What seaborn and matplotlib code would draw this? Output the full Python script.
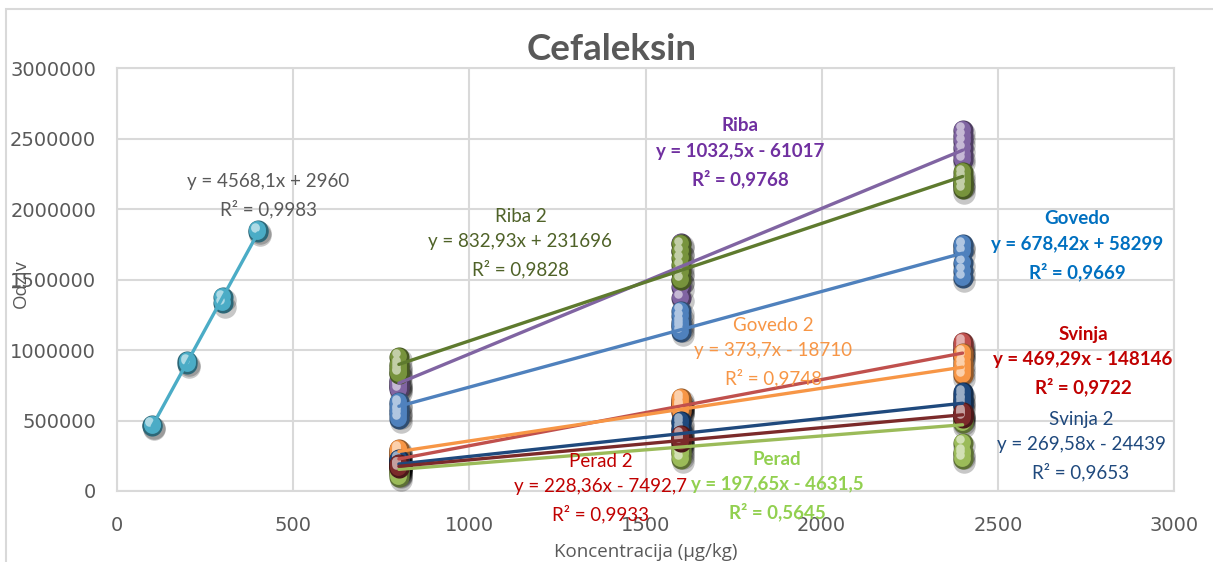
import numpy as np
import pandas as pd
import matplotlib
matplotlib.use("Agg")
import matplotlib.pyplot as plt
import matplotlib.colors as mcolors
from matplotlib.transforms import ScaledTranslation
from matplotlib.patches import Rectangle
import seaborn as sns

# ---------------- data ----------------
std_conc = [100, 100, 200, 200, 300, 300, 400, 400]
std_resp = [462000, 468000, 900000, 920000, 1330000, 1375000, 1840000, 1850000]
std_slope, std_icpt, std_r2 = 4568.1, 2960, 0.9983

levels = [800, 1600, 2400]
series = ["Riba", "Riba 2", "Govedo", "Svinja", "Govedo 2", "Svinja 2", "Perad", "Perad 2"]

riba = [[720000, 745000, 770000, 790000, 760000, 740000],
        [1370000, 1450000, 1500000, 1560000, 1700000, 1760000],
        [2350000, 2380000, 2430000, 2480000, 2520000, 2560000]]
riba2 = [[830000, 840000, 860000, 880000, 900000, 950000],
         [1500000, 1550000, 1600000, 1650000, 1700000, 1750000],
         [2140000, 2170000, 2180000, 2200000, 2230000, 2260000]]
govedo = [[510000, 540000, 560000, 580000, 610000, 630000],
          [1130000, 1160000, 1180000, 1200000, 1240000, 1280000],
          [1510000, 1560000, 1620000, 1700000, 1740000, 1750000]]
svinja = [[190000, 200000, 210000, 220000, 230000, 250000],
          [560000, 580000, 600000, 610000, 620000, 640000],
          [960000, 990000, 1000000, 1020000, 1040000, 1060000]]
govedo2 = [[250000, 260000, 270000, 280000, 290000, 300000],
           [570000, 590000, 600000, 610000, 640000, 660000],
           [820000, 850000, 880000, 910000, 950000, 980000]]
svinja2 = [[170000, 190000, 200000, 210000, 220000, 230000],
           [400000, 420000, 430000, 450000, 480000, 500000],
           [600000, 620000, 640000, 650000, 680000, 700000]]
perad = [[100000, 120000, 130000, 140000, 150000, 160000],
         [230000, 260000, 280000, 300000, 320000, 340000],
         [230000, 260000, 280000, 340000, 480000, 500000]]
perad2 = [[160000, 170000, 175000, 180000, 185000, 190000],
          [350000, 360000, 365000, 370000, 380000, 400000],
          [520000, 530000, 540000, 545000, 550000, 560000]]
responses = [riba, riba2, govedo, svinja, govedo2, svinja2, perad, perad2]

slopes = [1032.5, 832.93, 678.42, 469.29, 373.7, 269.58, 197.65, 228.36]
intercepts = [-61017, 231696, 58299, -148146, -18710, -24439, -4631.5, -7492.7]
r2 = [0.9768, 0.9828, 0.9669, 0.9722, 0.9748, 0.9653, 0.5645, 0.9933]

# ---------------- styling ----------------
marker_colors = ["#8064A2", "#77933C", "#4F81BD", "#C0504D", "#F79646",
                 "#1F497D", "#9BBB59", "#7B2A2A"]
text_colors = ["#7030A0", "#4F6228", "#0070C0", "#C00000", "#F79646",
               "#1F497D", "#92D050", "#C00000"]
text_bold = [True, False, True, True, False, False, True, False]
label_pos = [(1769, 2400000), (1145, 1760000), (2725, 1740000), (2742, 922000),
             (1862, 986000), (2736, 319000), (1873, 36000), (1372, 22000)]
std_color = "#4BACC6"
grey = "#595959"
grid_c = "#D9D9D9"

sns.set_theme(style="white")
plt.rcParams["font.family"] = ["Lato", "DejaVu Sans"]

fig = plt.figure(figsize=(12.13, 5.62), dpi=100)
ax = fig.add_axes([117 / 1213, 1 - 491 / 562, (1174 - 117) / 1213, (491 - 68) / 562])


def fmt(v):
    return f"{v:g}".replace(".", ",")


def equation(s, b):
    sign = "+" if b >= 0 else "-"
    return f"y = {fmt(s)}x {sign} {fmt(abs(b))}"


def shift(dx, dy):
    return ax.transData + ScaledTranslation(dx / 72, dy / 72, fig.dpi_scale_trans)


def spheres(x, y, color, size=210):
    base = np.array(mcolors.to_rgb(color))
    dark = base * 0.6
    light = base + (1 - base) * 0.55
    # soft drop shadow
    sns.scatterplot(x=x, y=y, ax=ax, s=size * 1.25, color="#000000", alpha=0.22,
                    linewidth=0, legend=False, zorder=3)
    ax.collections[-1].set_offset_transform(shift(1.3, -2.4))
    # body
    sns.scatterplot(x=x, y=y, ax=ax, s=size, color=tuple(dark), linewidth=0,
                    legend=False, zorder=4)
    sns.scatterplot(x=x, y=y, ax=ax, s=size * 0.7, color=tuple(base), linewidth=0,
                    legend=False, zorder=4)
    ax.collections[-1].set_offset_transform(shift(-0.5, 0.7))
    # highlight
    sns.scatterplot(x=x, y=y, ax=ax, s=size * 0.18, color=tuple(light), linewidth=0,
                    legend=False, zorder=4)
    ax.collections[-1].set_offset_transform(shift(-2.0, 2.6))


# calibration standard
spheres(std_conc, std_resp, std_color)
xs = np.array([min(std_conc), max(std_conc)])
sns.lineplot(x=xs, y=std_slope * xs + std_icpt, ax=ax, color=std_color, lw=2.4,
             zorder=5, legend=False)
ax.text(430, 2095000, f"{equation(std_slope, std_icpt)}\nR² = {fmt(std_r2)}",
        ha="center", va="center", color=grey, fontsize=13.5, linespacing=1.6, zorder=6)

# matrix series
for i, name in enumerate(series):
    conc = np.repeat(levels, [len(r) for r in responses[i]])
    resp = np.concatenate(responses[i])
    spheres(conc, resp, marker_colors[i])

for i, name in enumerate(series):
    xs = np.array([min(levels), max(levels)], dtype=float)
    line_c = marker_colors[i]
    if name == "Riba 2":
        line_c = "#5E7A2E"
    sns.lineplot(x=xs, y=slopes[i] * xs + intercepts[i], ax=ax, color=line_c,
                 lw=2.4, zorder=5, legend=False)
    px, py = label_pos[i]
    ax.text(px, py, f"{name}\n{equation(slopes[i], intercepts[i])}\nR² = {fmt(r2[i])}",
            ha="center", va="center", color=text_colors[i], fontsize=13.5,
            fontweight="bold" if text_bold[i] else "normal", linespacing=1.6, zorder=6)

# axes
ax.set_xlim(0, 3000)
ax.set_ylim(0, 3000000)
ax.set_xticks(np.arange(0, 3001, 500))
ax.set_yticks(np.arange(0, 3000001, 500000))
ax.ticklabel_format(style="plain", axis="y")
ax.grid(True, color=grid_c, lw=1.5)
ax.set_axisbelow(True)
for sp in ax.spines.values():
    sp.set_color(grid_c)
    sp.set_linewidth(1.5)
ax.tick_params(axis="both", length=0, labelsize=14, labelcolor=grey)
ax.tick_params(axis="x", pad=18)
ax.tick_params(axis="y", pad=15)
for lab in ax.get_xticklabels() + ax.get_yticklabels():
    lab.set_fontfamily("DejaVu Sans")

ax.set_xlabel("Koncentracija (µg/kg)", fontsize=13.5, color=grey, labelpad=6,
              fontfamily=["Open Sans", "DejaVu Sans"])
ax.set_ylabel("Odziv", fontsize=13.5, color=grey, fontfamily=["Open Sans", "DejaVu Sans"])
ax.yaxis.set_label_coords(-0.082, 0.49)

fig.text(612 / 1213, 1 - 50 / 562, "Cefaleksin", ha="center", va="center",
         fontsize=26.5, fontweight="bold", color=grey)

# chart frame
fig.patches.append(Rectangle((6 / 1213, -0.1), 1.2, 1 - 9 / 562 + 0.1,
                             transform=fig.transFigure, fill=False,
                             edgecolor=grid_c, lw=1.5))

fig.savefig("out.png", dpi=100)
